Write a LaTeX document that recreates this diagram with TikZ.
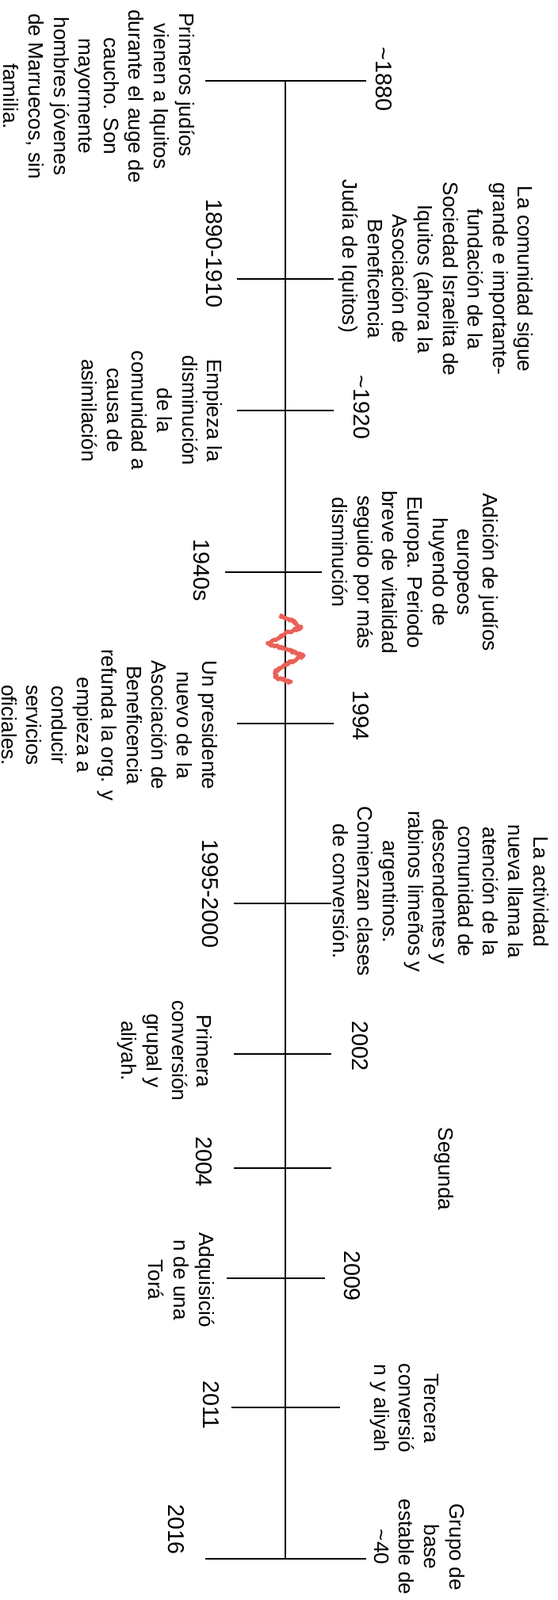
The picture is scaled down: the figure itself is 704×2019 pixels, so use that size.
\documentclass[tikz,border=0pt]{standalone}
\usepackage{fontspec}
\setmainfont{Liberation Sans}
\usetikzlibrary{decorations.pathmorphing}
\definecolor{squiggle}{RGB}{234,96,88}

\begin{document}
\begin{tikzpicture}[x=1pt,y=-1pt,
  year node/.style={rotate=-90,inner sep=0pt,font=\fontsize{28.7}{34}\selectfont},
  note node/.style={rotate=-90,inner sep=0pt,align=center,font=\fontsize{26.2}{31.6}\selectfont},
  tick line/.style={line width=1.3pt},
  break line/.style={draw=squiggle,line width=5pt,line join=round,decorate,
    decoration={random steps,segment length=1.5pt,amplitude=1.6pt}}]

 \useasboundingbox (0,0) rectangle (704,2019);

 \coordinate (a1880) at (360,102);
 \coordinate (a2016) at (360,1967);

 \node[year node] (y1880) at (484,100) {\textasciitilde1880};
 \node[year node] (y1890) at (270,320) {1890-1910};
 \node[year node] (y1920) at (456,514) {\textasciitilde1920};
 \node[year node] (y1940) at (254,720) {1940s};
 \node[year node] (y1994) at (455,903) {1994};
 \node[year node] (y1995) at (265,1128) {1995-2000};
 \node[year node] (y2002) at (454,1320) {2002};
 \node[year node] (y2004) at (257,1466) {2004};
 \node[year node] (y2009) at (444,1610) {2009};
 \node[year node] (y2011) at (266,1773) {2011};
 \node[year node] (y2016) at (222,1930) {2016};

 \node[note node] (n1880) at (125,121.5) {Primeros judíos\hspace*{29pt}\\ vienen a Iquitos\hspace*{29pt}\\ durante el auge de\\ caucho. Son\\ mayormente\\ hombres jóvenes\\ de Marruecos, sin\\ familia.};
 \node[note node] (n1890) at (550,352) {La comunidad sigue\\ grande e importante-\\ fundación de la\\ Sociedad Israelita de\\ Iquitos (ahora la\\ Asociación de\hspace*{58pt}\\ Beneficencia\hspace*{58pt}\\ Judía de Iquitos)\hspace*{58pt}};
 \node[note node] (n1920) at (192,518) {Empieza la\\ disminución\\ de la\\ comunidad a\\ causa de\\ asimilación};
 \node[note node] (n1940) at (524,722) {Adición de judíos\\ europeos\\ huyendo de\\ Europa. Periodo\\ breve de vitalidad\\ seguido por más\\ disminución\hspace*{50pt}};
 \node[note node] (n1994) at (138,915) {Un presidente\\ nuevo de la\\ Asociación de\\ Beneficencia\\ refunda la org. y\\ empieza a\\ conducir\\ servicios\\ oficiales.};
 \node[note node] (n1995) at (556,1125) {La actividad\\ nueva llama la\\ atención de la\\ comunidad de\\ descendentes y\\ rabinos limeños y\\ argentinos.\\ Comienzan clases\\ de conversión.};
 \node[note node] (n2002) at (208,1326) {Primera\\ conversión\\ grupal y\\ aliyah.};
 \node[note node] (n2004) at (560,1475) {Segunda};
 \node[note node] (n2009) at (229,1615) {Adquisició\\ n de una\\ Torá};
 \node[note node] (n2011) at (510,1777) {Tercera\\ conversió\\ n y aliyah};
 \node[note node] (n2016) at (529,1952) {Grupo de\\ base\\ estable de\\ \textasciitilde40};

 \draw[line width=1.3pt] (a1880) -- (a2016);
 \foreach \y/\l/\r in {102/259/462, 352/299/421, 518/299/421, 722/284/406,
    913/299/421, 1140/295/418, 1330/295/418, 1474/295/418, 1613/286/410,
    1776/292/429, 1967/259/462}
   \draw[tick line] (\l,\y) -- (\r,\y);

 \draw[break line] (353,777) -- (372,785) -- (380,792) -- (362,798) -- (338,812)
   -- (363,820) -- (383,827) -- (358,840) -- (347,848) -- (348,855)
   -- (367,860) -- (362,862);

\end{tikzpicture}
\end{document}
